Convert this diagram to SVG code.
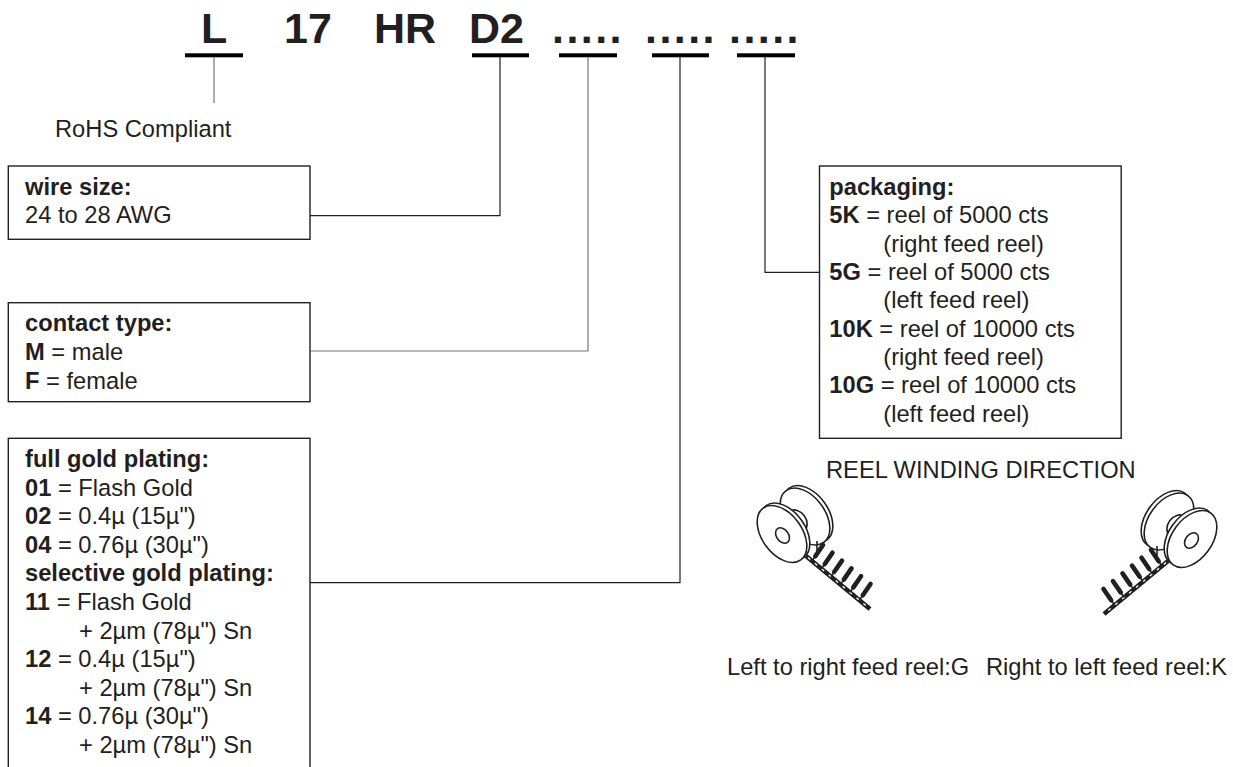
<svg xmlns="http://www.w3.org/2000/svg" xmlns:xlink="http://www.w3.org/1999/xlink" width="1233" height="767" viewBox="0 0 1233 767">
<style>
text{font-family:"Liberation Sans",Arial,Helvetica,sans-serif;fill:#231f20;}
.t{font-size:23.7px;}
.b{font-weight:bold;}
.h{font-size:43px;font-weight:bold;}
.dots{font-size:43px;font-weight:bold;letter-spacing:2.45px;}
.box{fill:#fff;stroke:#231f20;stroke-width:1.4;}
.ul{fill:#000;}
.c{fill:none;stroke:#231f20;stroke-width:1.2;}
.cg{fill:none;stroke:#777;stroke-width:1.2;}
.disc{fill:#fff;stroke:#231f20;stroke-width:1.6;}
.pin{stroke:#231f20;stroke-width:4.6;stroke-linecap:round;}
.neck{stroke:#231f20;stroke-width:1.6;}
</style>
<defs>
<g id="reelShape">
<ellipse class="disc" cx="808" cy="514" rx="20" ry="32" transform="rotate(-36 808 514)"/>
<ellipse class="disc" cx="805" cy="516.5" rx="20" ry="32" transform="rotate(-36 805 516.5)"/>
<ellipse class="disc" cx="797" cy="521" rx="9" ry="12" transform="rotate(-36 797 521)"/>
<ellipse class="disc" cx="785" cy="531.5" rx="20" ry="32" transform="rotate(-36 785 531.5)"/>
<ellipse class="disc" cx="782" cy="534" rx="20" ry="32" transform="rotate(-36 782 534)"/>
<ellipse class="disc" cx="782.5" cy="535.5" rx="6" ry="8.5" transform="rotate(-36 782.5 535.5)"/>
<line x1="817" y1="541" x2="817" y2="557" class="neck"/>
<line x1="806" y1="556" x2="870" y2="609" stroke="#231f20" stroke-width="4.5"/>
<line x1="808" y1="557.6" x2="868" y2="607.4" stroke="#fff" stroke-width="1.3" stroke-dasharray="3 6"/>
<line x1="812" y1="561" x2="815.3" y2="556.2" class="neck"/><line x1="815.3" y1="556.2" x2="823" y2="545" class="pin"/>
<line x1="821.5" y1="568.8" x2="824.8" y2="564" class="neck"/><line x1="824.8" y1="564" x2="832.5" y2="552.8" class="pin"/>
<line x1="831" y1="576.6" x2="834.3" y2="571.8" class="neck"/><line x1="834.3" y1="571.8" x2="842" y2="560.6" class="pin"/>
<line x1="840.5" y1="584.4" x2="843.8" y2="579.6" class="neck"/><line x1="843.8" y1="579.6" x2="851.5" y2="568.4" class="pin"/>
<line x1="850" y1="592.2" x2="853.3" y2="587.4" class="neck"/><line x1="853.3" y1="587.4" x2="861" y2="576.2" class="pin"/>
<line x1="859.5" y1="600" x2="862.8" y2="595.2" class="neck"/><line x1="862.8" y1="595.2" x2="870.5" y2="584" class="pin"/>
</g>
</defs>

<g id="code">
<text class="h" x="201" y="43.3">L</text>
<text class="h" x="284" y="43.3">17</text>
<text class="h" x="374" y="43.3">HR</text>
<text class="h" x="469" y="43.3">D2</text>
<text class="dots" x="552" y="43.3">.....</text>
<text class="dots" x="645" y="43.3">.....</text>
<text class="dots" x="729" y="43.3">.....</text>
<rect class="ul" x="185" y="53.3" width="58" height="4"/>
<rect class="ul" x="472" y="53.3" width="57" height="4"/>
<rect class="ul" x="559" y="53.3" width="58" height="4"/>
<rect class="ul" x="652" y="53.3" width="57" height="4"/>
<rect class="ul" x="737" y="53.3" width="58" height="4"/>
</g>

<g id="connectors">
<polyline class="cg" points="214,57 214,103"/>
<polyline class="c" points="500,57 500,215.7 310,215.7"/>
<polyline class="cg" points="588,57 588,351 310,351"/>
<polyline class="c" points="680,57 680,582.7 310,582.7"/>
<polyline class="c" points="765,57 765,272.3 819.5,272.3"/>
</g>

<g id="rohs">
<text class="t" x="55" y="137">RoHS Compliant</text>
</g>

<g id="wire-size">
<rect class="box" x="8.3" y="166" width="301.7" height="73.3"/>
<text class="t b" x="25" y="195">wire size:</text>
<text class="t" x="25" y="223">24 to 28 AWG</text>
</g>

<g id="contact-type">
<rect class="box" x="8.3" y="302.7" width="301.7" height="99"/>
<text class="t b" x="25" y="330.5">contact type:</text>
<text class="t" x="25" y="360"><tspan class="b">M</tspan> = male</text>
<text class="t" x="25" y="389"><tspan class="b">F</tspan> = female</text>
</g>

<g id="plating">
<rect class="box" x="8.3" y="438.3" width="301.7" height="340"/>
<text class="t b" x="25" y="467">full gold plating:</text>
<text class="t" x="25" y="495.6"><tspan class="b">01</tspan> = Flash Gold</text>
<text class="t" x="25" y="524.2"><tspan class="b">02</tspan> = 0.4µ (15µ")</text>
<text class="t" x="25" y="552.8"><tspan class="b">04</tspan> = 0.76µ (30µ")</text>
<text class="t b" x="25" y="581.4">selective gold plating:</text>
<text class="t" x="25" y="610"><tspan class="b">11</tspan> = Flash Gold</text>
<text class="t" x="79" y="638.6">+ 2µm (78µ") Sn</text>
<text class="t" x="25" y="667.2"><tspan class="b">12</tspan> = 0.4µ (15µ")</text>
<text class="t" x="79" y="695.8">+ 2µm (78µ") Sn</text>
<text class="t" x="25" y="724.4"><tspan class="b">14</tspan> = 0.76µ (30µ")</text>
<text class="t" x="79" y="753">+ 2µm (78µ") Sn</text>
</g>

<g id="packaging">
<rect class="box" x="819.5" y="166" width="301.7" height="272.3"/>
<text class="t b" x="829.3" y="195">packaging:</text>
<text class="t" x="829.3" y="223.3"><tspan class="b">5K</tspan> = reel of 5000 cts</text>
<text class="t" x="883.3" y="251.7">(right feed reel)</text>
<text class="t" x="829.3" y="280"><tspan class="b">5G</tspan> = reel of 5000 cts</text>
<text class="t" x="883.3" y="308.3">(left feed reel)</text>
<text class="t" x="829.3" y="336.7"><tspan class="b">10K</tspan> = reel of 10000 cts</text>
<text class="t" x="883.3" y="365">(right feed reel)</text>
<text class="t" x="829.3" y="393.3"><tspan class="b">10G</tspan> = reel of 10000 cts</text>
<text class="t" x="883.3" y="421.7">(left feed reel)</text>
</g>

<g id="reel-title">
<text class="t" x="826" y="478.3">REEL WINDING DIRECTION</text>
</g>

<g id="reel-left">
<use xlink:href="#reelShape" href="#reelShape"/>
<text class="t" x="727" y="675">Left to right feed reel:G</text>
</g>

<g id="reel-right">
<use xlink:href="#reelShape" href="#reelShape" transform="translate(1974,5) scale(-1,1)"/>
<text class="t" x="986" y="675">Right to left feed reel:K</text>
</g>
</svg>
